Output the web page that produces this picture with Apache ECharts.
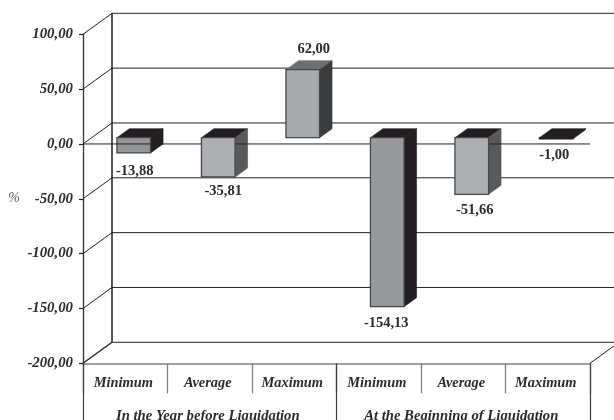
<!DOCTYPE html>
<html>
<head>
<meta charset="utf-8">
<style>html,body{margin:0;padding:0;background:#fff}#c{width:614px;height:420px}</style>
<script src="https://cdn.jsdelivr.net/npm/echarts@6/dist/echarts.min.js"></script>
</head>
<body>
<div id="c"></div>
<script>
// Liquidation figures by period, in percent
const categories = ['Minimum', 'Average', 'Maximum', 'Minimum', 'Average', 'Maximum'];
const periods = ['In the Year before Liquidation', 'At the Beginning of Liquidation'];
const values = [-13.88, -35.81, 62.00, -154.13, -51.66, -1.00];
const yTicks = [-200, -150, -100, -50, 0, 50, 100];

// Face colours of each column
const frontColors = ['#949598', '#aeafb2', '#a9aaad', '#98999c', '#aeafb2', '#231f20'];
const sideColors = ['#231f20', '#58595b', '#3a3b3c', '#231f20', '#58595b', '#231f20'];
const topColors = ['#231f20', '#231f20', '#6d6e70', '#231f20', '#231f20', '#231f20'];
// Label shift from the column centre, and gap beyond its end
const labelShiftX = [1, 5, 11, -1, 3, -2];
const labelGap = [18, 14, 11, 17, 15.5, 16];

const FONT = '"Liberation Serif", serif';
const WALL = { dx: 29, dy: -21 };       // depth of the chart box
const BAR = { dx: 8.5, dy: -6.3, w: 33.6, ddx: 12.5, ddy: -9 };  // column placement inside the box
const fmt = v => v.toFixed(2).replace('.', ',');

function poly(points, fill, stroke, lw) {
  return { type: 'polygon', shape: { points },
    style: { fill, stroke: stroke || fill, lineWidth: lw || 0.6 } };
}
function seg(x1, y1, x2, y2, stroke, lineWidth) {
  return { type: 'line', shape: { x1, y1, x2, y2 }, style: { stroke, lineWidth } };
}

// Corners of the front face of column i
function barBox(i, api) {
  const zero = api.coord([i, 0]);
  const end = api.coord([i, values[i]]);
  const l = zero[0] + BAR.dx - BAR.w / 2;
  const r = l + BAR.w;
  const y0 = zero[1] + BAR.dy;
  const y1 = end[1] + BAR.dy;
  return { l, r, top: Math.min(y0, y1), bottom: Math.max(y0, y1), y1 };
}
function frontFace(i, b) {
  return { type: 'rect', shape: { x: b.l, y: b.top, width: b.r - b.l, height: b.bottom - b.top },
    style: { fill: frontColors[i], stroke: i === 5 ? '#231f20' : '#47484a', lineWidth: 1.3 } };
}

const option = {
  animation: false,
  backgroundColor: '#fff',
  grid: { left: 83, right: 24, top: 34.3, bottom: 56.7, outerBoundsMode: 'none' },
  xAxis: [
    { type: 'category', data: categories, position: 'bottom',
      axisLine: { show: true, onZero: false, lineStyle: { color: '#808184', width: 1.5 } },
      axisTick: { show: true, length: 30, lineStyle: { color: '#808184', width: 1.3 } },
      axisLabel: { interval: 0, margin: 13, padding: [0, 4, 0, 0], fontFamily: FONT, fontStyle: 'italic', fontWeight: 'bold', fontSize: 14.4, color: '#2b2b2d' } },
    { type: 'category', data: periods, position: 'bottom',
      axisLine: { show: false, onZero: false },
      axisTick: { show: true, length: 60, lineStyle: { color: '#3c3c3e', width: 1.2 } },
      axisLabel: { interval: 0, margin: 45, padding: [0, 4, 0, 0], fontFamily: FONT, fontStyle: 'italic', fontWeight: 'bold', fontSize: 14.7, color: '#2b2b2d' } }
  ],
  yAxis: {
    type: 'value', min: -200, max: 100, interval: 50,
    name: '%', nameLocation: 'middle', nameGap: 63, nameRotate: 0,
    nameTextStyle: { fontFamily: FONT, fontStyle: 'italic', fontSize: 14, color: '#58595b', padding: [3, 0, 0, 0] },
    axisLine: { show: true, onZero: false, lineStyle: { color: '#333', width: 1.3 } },
    axisTick: { show: true, length: 4, lineStyle: { color: '#222', width: 1.2 } },
    axisLabel: { margin: 10, padding: [2, 0, 0, 0], formatter: v => fmt(v), fontFamily: FONT, fontStyle: 'italic', fontWeight: 'bold', fontSize: 14.8, color: '#2b2b2d' },
    splitLine: { show: false }
  },
  series: [
    // Back wall grid lines, side wall diagonals and floor
    { type: 'custom', z: 1, xAxisIndex: 0, silent: true, data: yTicks.map(v => [0, v]),
      renderItem(params, api) {
        const v = api.value(1);
        const cs = params.coordSys;
        const x0 = cs.x, x1 = cs.x + cs.width;
        const y = api.coord([0, v])[1];
        const kids = [
          seg(x0, y, x0 + WALL.dx, y + WALL.dy, '#222', v === -200 ? 1.4 : 1),
          seg(x0 + WALL.dx, y + WALL.dy, x1 + WALL.dx, y + WALL.dy, '#222', 1)
        ];
        if (v === -200) {
          kids.push(seg(x1, y, x1 + WALL.dx, y + WALL.dy, '#222', 1));
          kids.push(seg(x0 + WALL.dx, y + WALL.dy, x0 + WALL.dx, cs.y + WALL.dy, '#555', 2));
        }
        return { type: 'group', children: kids };
      } },
    // Top and side faces; the first column's front face sits behind the zero line
    { type: 'custom', z: 2, xAxisIndex: 0, silent: true, data: values.map((v, i) => [i, v]),
      renderItem(params, api) {
        const i = params.dataIndex;
        const b = barBox(i, api);
        const kids = [
          poly([[b.l, b.top], [b.r, b.top], [b.r + BAR.ddx, b.top + BAR.ddy], [b.l + BAR.ddx, b.top + BAR.ddy]], topColors[i]),
          poly([[b.r, b.top], [b.r + BAR.ddx, b.top + BAR.ddy], [b.r + BAR.ddx, b.bottom + BAR.ddy], [b.r, b.bottom]], sideColors[i])
        ];
        if (i === 0) kids.push(frontFace(i, b));
        return { type: 'group', children: kids };
      } },
    // Zero line across the front of the box
    { type: 'custom', z: 3, xAxisIndex: 0, silent: true, data: [[0, 0]],
      renderItem(params, api) {
        const cs = params.coordSys;
        const y = api.coord([0, 0])[1];
        return seg(cs.x, y, cs.x + cs.width, y, '#222', 1);
      } },
    // Remaining front faces and the value labels
    { type: 'custom', z: 4, xAxisIndex: 0, silent: true, data: values.map((v, i) => [i, v]),
      renderItem(params, api) {
        const i = params.dataIndex;
        const b = barBox(i, api);
        const kids = [];
        if (i !== 0) kids.push(frontFace(i, b));
        const cx = (b.l + b.r) / 2 + labelShiftX[i];
        const ly = values[i] >= 0 ? b.top + BAR.ddy - labelGap[i] : b.bottom + labelGap[i];
        kids.push({ type: 'text', x: cx, y: ly,
          style: { text: fmt(values[i]), x: 0, y: 0, align: 'center', verticalAlign: 'middle',
            font: 'bold 14.5px ' + FONT, fill: '#2b2b2d' } });
        return { type: 'group', children: kids };
      } }
  ]
};
echarts.init(document.getElementById('c'), null, { renderer: 'canvas' }).setOption(option);
</script>
</body>
</html>
